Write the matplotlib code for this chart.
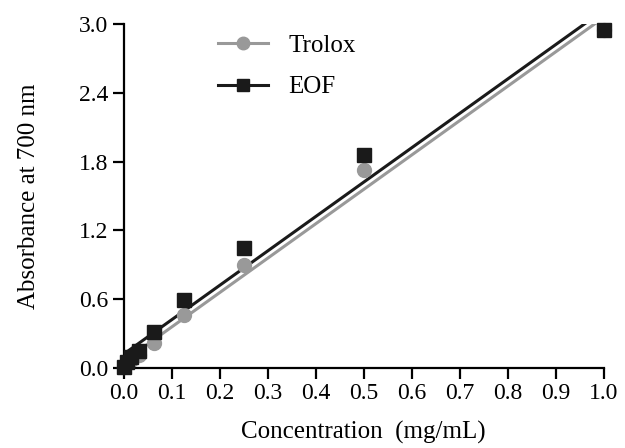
import numpy as np
import matplotlib
matplotlib.use('Agg')
import matplotlib.pyplot as plt

plt.rcParams['font.family'] = ['Liberation Serif', 'DejaVu Serif']

# Data
conc = [0.0, 0.0078, 0.0156, 0.03125, 0.0625, 0.125, 0.25, 0.5, 1.0]
trolox = [0.01, 0.04, 0.07, 0.11, 0.22, 0.46, 0.90, 1.73, 2.95]
eof = [0.01, 0.05, 0.09, 0.15, 0.31, 0.59, 1.05, 1.86, 2.95]

fig = plt.figure(figsize=(6.25, 4.48), dpi=100)
ax = fig.add_axes([0.198, 0.179, 0.768, 0.767])

xs = np.array([0.0, 1.0])
for y, col, mk, lab in [(trolox, '#999999', 'o', 'Trolox'), (eof, '#1a1a1a', 's', 'EOF')]:
    k, b = np.polyfit(conc, y, 1)
    ax.plot(xs, k * xs + b, color=col, lw=2.2)
    ax.plot(conc, y, linestyle='none', marker=mk, color=col, ms=10, clip_on=False, zorder=3)
    ax.plot([], [], color=col, lw=2.2, marker=mk, ms=9, label=lab)

ax.set_xlim(0, 1.0)
ax.set_ylim(0, 3.0)
ax.set_xticks(np.arange(0, 1.01, 0.1))
ax.set_yticks(np.arange(0, 3.01, 0.6))
ax.xaxis.set_major_formatter(matplotlib.ticker.FormatStrFormatter('%.1f'))
ax.yaxis.set_major_formatter(matplotlib.ticker.FormatStrFormatter('%.1f'))
for s in ['top', 'right']:
    ax.spines[s].set_visible(False)
for s in ['left', 'bottom']:
    ax.spines[s].set_linewidth(1.6)
ax.tick_params(width=1.6, length=8, labelsize=17, pad=3)
ax.set_xlabel('Concentration  (mg/mL)', fontsize=18, labelpad=12)
ax.set_ylabel('Absorbance at 700 nm', fontsize=18, labelpad=28)

ax.legend(loc='upper left', bbox_to_anchor=(0.15, 1.035), frameon=False, fontsize=18,
          handlelength=2.0, handletextpad=0.8, labelspacing=0.75)

fig.savefig('out.png', dpi=100)
